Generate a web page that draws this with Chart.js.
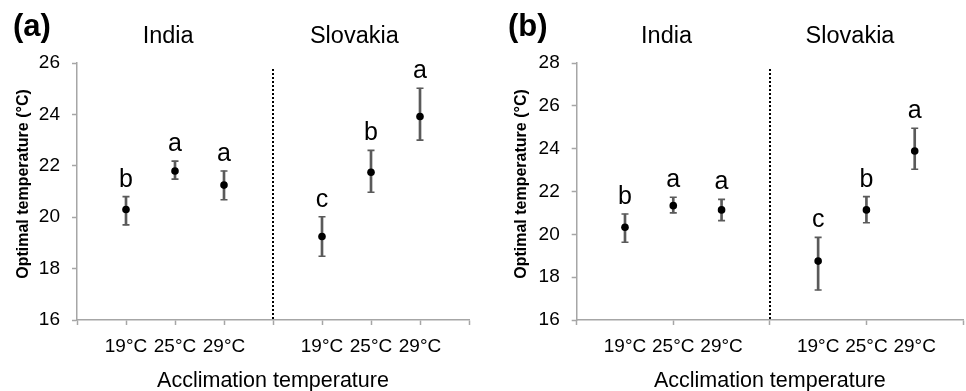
<!DOCTYPE html>
<html><head><meta charset="utf-8">
<script src="https://cdn.jsdelivr.net/npm/chart.js@4.4.1/dist/chart.umd.min.js"></script>
<style>
html,body{margin:0;padding:0;background:#fff;overflow:hidden;width:966px;height:391px;position:relative;}
canvas{position:absolute;top:0;}
#ca{left:0;} #cb{left:483px;}
</style></head><body>
<canvas id="ca" width="483" height="391"></canvas>
<canvas id="cb" width="490" height="391"></canvas>
<script>
const tickLabels = ['', '19°C', '25°C', '29°C', '', '19°C', '25°C', '29°C', ''];
const groupNames = ['India', 'Slovakia'];
const panelTags = ['(a)', '(b)'];
const yTitle = 'Optimal temperature (°C)';
const xTitle = 'Acclimation temperature';

// Panel (a)
const indiaMeanA = [20.3, 21.8, 21.25];
const indiaLowA = [19.7, 21.48, 20.68];
const indiaHighA = [20.8, 22.18, 21.8];
const slovakiaMeanA = [19.25, 21.75, 23.92];
const slovakiaLowA = [18.48, 20.97, 23.0];
const slovakiaHighA = [20.02, 22.6, 25.02];
const indiaLettersA = ['b', 'a', 'a'];
const slovakiaLettersA = ['c', 'b', 'a'];

// Panel (b)
const indiaMeanB = [20.33, 21.34, 21.14];
const indiaLowB = [19.63, 21.0, 20.64];
const indiaHighB = [20.95, 21.73, 21.63];
const slovakiaMeanB = [18.75, 21.14, 23.89];
const slovakiaLowB = [17.4, 20.54, 23.04];
const slovakiaHighB = [19.86, 21.76, 24.95];
const indiaLettersB = ['b', 'a', 'a'];
const slovakiaLettersB = ['c', 'b', 'a'];

const yMaxA = 26, yMaxB = 28, yMin = 16, yStep = 2;

const FONT = "'Liberation Sans', Arial, Helvetica, sans-serif";
const AXIS_GREY = '#a6a6a6';
const ERR_GREY = '#5a5a5a';

function align(india, slovakia) {
  return [null, ...india, null, ...slovakia, null];
}

function makeChart(id, opts) {
  const mean = align(opts.indiaMean, opts.slovakiaMean);
  const low = align(opts.indiaLow, opts.slovakiaLow);
  const high = align(opts.indiaHigh, opts.slovakiaHigh);
  const letters = align(opts.indiaLetters, opts.slovakiaLetters);
  const ranges = mean.map((m, i) => m === null ? null : [low[i], high[i]]);

  const annot = {
    id: 'annot' + id,
    afterDatasetsDraw(chart) {
      const ctx = chart.ctx;
      const xs = chart.scales.x, ys = chart.scales.y;
      const area = chart.chartArea;
      ctx.save();
      // dotted divider
      ctx.strokeStyle = '#000';
      ctx.lineWidth = 2;
      ctx.setLineDash([2, 2]);
      const xd = Math.round(xs.getPixelForValue(4));
      ctx.beginPath();
      ctx.moveTo(xd, area.top + 6);
      ctx.lineTo(xd, area.bottom);
      ctx.stroke();
      ctx.setLineDash([]);
      // significance letters
      ctx.fillStyle = '#000';
      ctx.textAlign = 'center';
      ctx.textBaseline = 'alphabetic';
      ctx.font = '25px ' + FONT;
      letters.forEach((l, i) => {
        if (!l) return;
        ctx.fillText(l, xs.getPixelForValue(i), ys.getPixelForValue(high[i]) - 10);
      });
      // group names
      ctx.font = '23.5px ' + FONT;
      ctx.fillText(groupNames[0], xs.getPixelForValue(1.86), 43);
      ctx.fillText(groupNames[1], xs.getPixelForValue(5.66), 43);
      // panel tag
      ctx.font = 'bold 31px ' + FONT;
      ctx.textAlign = 'left';
      ctx.fillText(opts.tag, opts.tagX, 36);
      // x title
      ctx.font = '21.5px ' + FONT;
      ctx.textAlign = 'center';
      ctx.fillText(xTitle, xs.getPixelForValue(4), 387);
      // y title
      ctx.font = 'bold 16px ' + FONT;
      ctx.translate(opts.yTitleX, 184);
      ctx.rotate(-Math.PI / 2);
      ctx.textBaseline = 'middle';
      ctx.fillText(yTitle, 0, 0);
      ctx.restore();
    }
  };

  return new Chart(document.getElementById(id), {
    data: {
      labels: tickLabels,
      datasets: [
        { type: 'line', data: mean, showLine: false, order: 0,
          pointRadius: 3.8, pointBackgroundColor: '#000', pointBorderColor: '#000', pointBorderWidth: 0 },
        { type: 'line', data: high, showLine: false, order: 1,
          pointStyle: 'line', pointRadius: 3.5, pointBorderColor: ERR_GREY, pointBorderWidth: 1.6 },
        { type: 'line', data: low, showLine: false, order: 1,
          pointStyle: 'line', pointRadius: 3.5, pointBorderColor: ERR_GREY, pointBorderWidth: 1.6 },
        { type: 'bar', data: ranges, order: 2, barThickness: 2,
          backgroundColor: ERR_GREY, borderWidth: 0 }
      ]
    },
    options: {
      responsive: false,
      devicePixelRatio: 1,
      animation: false,
      events: [],
      layout: { padding: { top: 63, right: opts.padRight, left: 0, bottom: 0 } },
      plugins: { legend: { display: false }, tooltip: { enabled: false } },
      scales: {
        x: {
          type: 'category',
          offset: false,
          afterFit(s) { s.height = 71; },
          grid: {
            offset: false,
            drawOnChartArea: false, drawTicks: true, tickLength: 5,
            tickWidth: 1.5,
            tickColor: (c) => (opts.tickEvery === 2 && c.index % 2 === 1) ? 'rgba(0,0,0,0)' : AXIS_GREY
          },
          border: { color: AXIS_GREY, width: 1.5 },
          ticks: { autoSkip: false, maxRotation: 0, padding: 10, color: '#000',
            font: { family: FONT, size: 19 } }
        },
        y: {
          min: yMin, max: opts.yMax,
          afterFit(s) { s.width = opts.yWidth; },
          grid: { drawOnChartArea: false, drawTicks: true, tickLength: 5, tickWidth: 1.5, tickColor: AXIS_GREY },
          border: { color: AXIS_GREY, width: 1.5 },
          ticks: { stepSize: yStep, padding: 12, color: '#000', font: { family: FONT, size: 19 } }
        }
      }
    },
    plugins: [annot]
  });
}

makeChart('ca', {
  indiaMean: indiaMeanA, indiaLow: indiaLowA, indiaHigh: indiaHighA,
  slovakiaMean: slovakiaMeanA, slovakiaLow: slovakiaLowA, slovakiaHigh: slovakiaHighA,
  indiaLetters: indiaLettersA, slovakiaLetters: slovakiaLettersA,
  yMax: yMaxA, yWidth: 77, padRight: 14, tag: panelTags[0], tagX: 13, yTitleX: 24, tickEvery: 1
});
makeChart('cb', {
  indiaMean: indiaMeanB, indiaLow: indiaLowB, indiaHigh: indiaHighB,
  slovakiaMean: slovakiaMeanB, slovakiaLow: slovakiaLowB, slovakiaHigh: slovakiaHighB,
  indiaLetters: indiaLettersB, slovakiaLetters: slovakiaLettersB,
  yMax: yMaxB, yWidth: 93.7, padRight: 4.3, tag: panelTags[1], tagX: 25, yTitleX: 39, tickEvery: 2
});
</script>
</body></html>
